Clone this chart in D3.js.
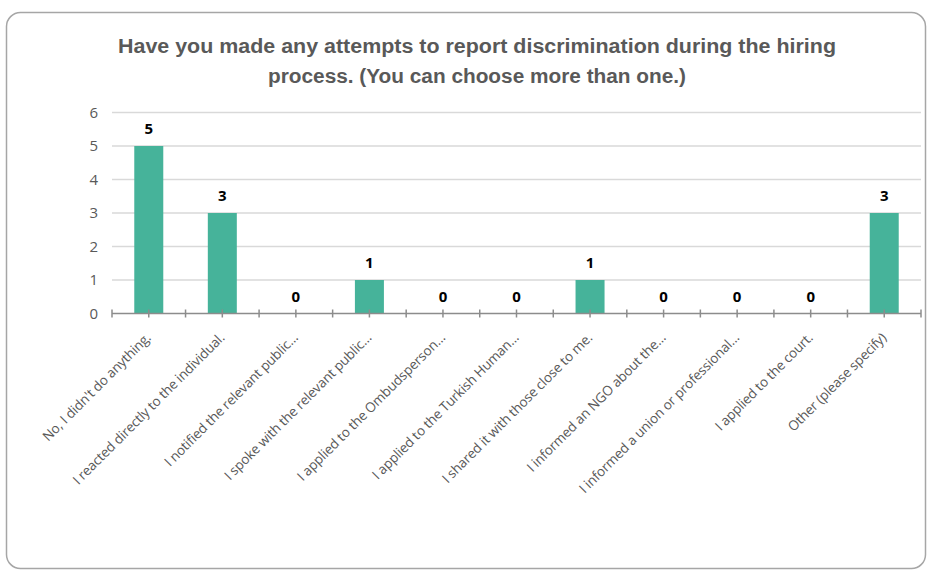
<!DOCTYPE html>
<html><head><meta charset="utf-8">
<script src="https://cdn.jsdelivr.net/npm/d3@7"></script>
<style>body{margin:0;background:#fff}svg{display:block}</style>
</head><body>
<svg id="c" width="931" height="570"></svg>
<script>
const categories = [
  "No, I didn't do anything.",
  "I reacted directly to the individual.",
  "I notified the relevant public…",
  "I spoke with the relevant public…",
  "I applied to the Ombudsperson…",
  "I applied to the Turkish Human…",
  "I shared it with those close to me.",
  "I informed an NGO about the…",
  "I informed a union or professional…",
  "I applied to the court.",
  "Other (please specify)"
];
const values = [5, 3, 0, 1, 0, 0, 1, 0, 0, 0, 3];
const yTicks = [0, 1, 2, 3, 4, 5, 6];
const titleLines = [
  "Have you made any attempts to report discrimination during the hiring",
  "process. (You can choose more than one.)"
];

const svg = d3.select("#c");
svg.append("rect").attr("x", 6.5).attr("y", 12.5).attr("width", 919).attr("height", 556)
  .attr("rx", 14).attr("fill", "#fff").attr("stroke", "#a6a6a6").attr("stroke-width", 1.5);

const font = "'Liberation Sans',sans-serif";
const titleW = [718, 418];
svg.selectAll("text.title").data(titleLines).join("text")
  .attr("x", 477).attr("y", (d, i) => 53 + i * 30)
  .attr("text-anchor", "middle").attr("font-family", font).attr("font-weight", "bold")
  .attr("font-size", 19.5).attr("fill", "#595959")
  .attr("textLength", (d, i) => titleW[i]).attr("lengthAdjust", "spacingAndGlyphs")
  .text(d => d);

const xb = d3.scaleBand().domain(categories).range([112, 921]);
const y = d3.scaleLinear().domain([0, 6]).range([313.5, 112.5]);

// gridlines
svg.append("g").selectAll("line").data(yTicks.filter(d => d > 0)).join("line")
  .attr("x1", 112).attr("x2", 921).attr("y1", d => y(d)).attr("y2", d => y(d))
  .attr("stroke", "#d9d9d9").attr("stroke-width", 1.5);

// y labels
svg.append("g").selectAll("text").data(yTicks).join("text")
  .attr("x", 98).attr("y", d => y(d)).attr("dy", "0.35em").attr("text-anchor", "end")
  .attr("font-family", "'Open Sans',sans-serif").attr("font-size", 15).attr("fill", "#595959").text(d => d);

// bars
const bw = 29;
svg.append("g").selectAll("rect").data(values).join("rect")
  .attr("x", (d, i) => xb(categories[i]) + xb.bandwidth() / 2 - bw / 2)
  .attr("y", d => y(d)).attr("width", bw).attr("height", d => y(0) - y(d))
  .attr("fill", "#46b39a");

// x axis
const ticksPos = [];
categories.forEach(c => { ticksPos.push(xb(c)); ticksPos.push(xb(c) + xb.bandwidth() / 2); });
ticksPos.push(921);
const ax = svg.append("g");
ax.append("line").attr("x1", 112).attr("x2", 921).attr("y1", y(0)).attr("y2", y(0))
  .attr("stroke", "#8c8c8c").attr("stroke-width", 1.5);
ax.selectAll("line.t").data(ticksPos).join("line").attr("class", "t")
  .attr("x1", d => d).attr("x2", d => d).attr("y1", y(0) - 4).attr("y2", y(0) + 4)
  .attr("stroke", "#8c8c8c").attr("stroke-width", 1.5);

// data labels
svg.append("g").selectAll("text").data(values).join("text")
  .attr("x", (d, i) => xb(categories[i]) + xb.bandwidth() / 2)
  .attr("y", d => y(d) - 12).attr("text-anchor", "middle")
  .attr("font-family", "'Open Sans',sans-serif").attr("font-weight", "bold").attr("font-size", 15)
  .attr("fill", "#000").text(d => d);

// category labels
svg.append("g").selectAll("text").data(categories).join("text")
  .attr("transform", c => `translate(${xb(c) + xb.bandwidth() / 2 + 3},${y(0) + 25}) rotate(-45)`)
  .attr("text-anchor", "end")
  .attr("font-family", "'Open Sans',sans-serif").attr("font-size", 13.5).attr("letter-spacing", -0.15)
  .attr("fill", "#595959").text(d => d);
</script>
</body></html>
